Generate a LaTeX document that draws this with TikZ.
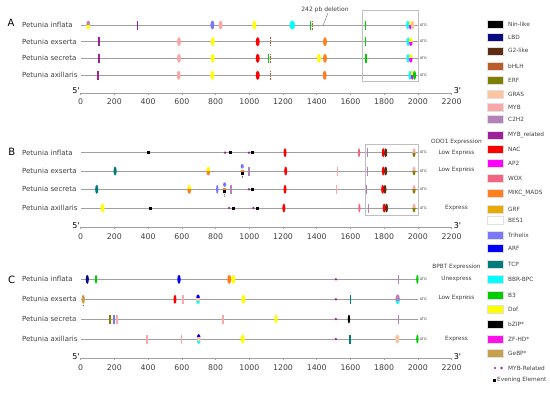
\documentclass[tikz,border=0pt]{standalone}
\usepackage{fontspec}
\setmainfont{DejaVu Sans}
\newfontfamily\primefont{DejaVu Sans}
\definecolor{ninlike}{HTML}{000000}
\definecolor{lbd}{HTML}{0A0A82}
\definecolor{gtwo}{HTML}{5E2C12}
\definecolor{bhlh}{HTML}{BC5C28}
\definecolor{erf}{HTML}{7F7F00}
\definecolor{gras}{HTML}{FCC4A0}
\definecolor{myb}{HTML}{F8A8A8}
\definecolor{ctwo}{HTML}{B482B8}
\definecolor{mybrel}{HTML}{A0209A}
\definecolor{nac}{HTML}{FF0000}
\definecolor{aptwo}{HTML}{FF00FF}
\definecolor{wox}{HTML}{F26482}
\definecolor{mads}{HTML}{FF7F1E}
\definecolor{grf}{HTML}{E8AA00}
\definecolor{bes}{HTML}{FFFFFF}
\definecolor{trihelix}{HTML}{7878F8}
\definecolor{arf}{HTML}{0000FF}
\definecolor{tcp}{HTML}{007C7C}
\definecolor{bbr}{HTML}{00FFFF}
\definecolor{bthree}{HTML}{00CC00}
\definecolor{dof}{HTML}{FFFF00}
\definecolor{bzip}{HTML}{000000}
\definecolor{zfhd}{HTML}{FF10E8}
\definecolor{gebp}{HTML}{C8A04C}
\definecolor{linegray}{HTML}{A0A0A0}
\definecolor{textgray}{HTML}{404040}
% binding sites
\newcommand{\tfoval}[4][2pt]{\fill[#4] (#2,#3) ellipse [x radius=#1, y radius=4.5pt];}
\newcommand{\tfbar}[3]{\fill[#3] (#1,#2) ++(-0.8pt,-4.5pt) rectangle ++(1.6pt,9pt);}
\newcommand{\tfdash}[3]{\draw[#3, line width=1.2pt, dash pattern=on 1.6pt off 0.9pt] (#1,#2) ++(0,4.5pt) -- ++(0,-9pt);}
\newcommand{\tfduo}[5][2pt]{\begin{scope}
  \clip (#2,#3) ellipse [x radius=#1, y radius=4.5pt];
  \fill[#4] (#2,#3) ++(-3pt,0) rectangle ++(6pt,5pt);
  \fill[#5] (#2,#3) ++(-3pt,0) rectangle ++(6pt,-5pt);
  \end{scope}}
\newcommand{\tftrio}[6][2pt]{\begin{scope}
  \clip (#2,#3) ellipse [x radius=#1, y radius=5pt];
  \fill[#4] (#2,#3) ++(-3pt,1.7pt) rectangle ++(6pt,4pt);
  \fill[#5] (#2,#3) ++(-3pt,-1.7pt) rectangle ++(6pt,3.4pt);
  \fill[#6] (#2,#3) ++(-3pt,-1.7pt) rectangle ++(6pt,-4pt);
  \end{scope}}
\newcommand{\tfstack}[2]{%
  \fill[trihelix] (#1,#2) ++(0,4.7pt) ellipse [x radius=1.6pt, y radius=2.3pt];
  \fill[mads] (#1,#2) ++(-1.6pt,-1pt) rectangle ++(3.2pt,2.4pt);
  \fill[black] (#1,#2) ++(-1.6pt,-1pt) rectangle ++(3.2pt,-2.6pt);
  \fill[black] (#1,#2) ++(0,-5.4pt) circle (0.45pt) ++(0,-1.5pt) circle (0.45pt);}
\newcommand{\evsq}[2]{\fill[black] (#1,#2) ++(-1.5pt,-1.5pt) rectangle ++(3pt,3pt);}
\newcommand{\mrdot}[2]{\fill[mybrel] (#1,#2) circle (1.3pt);}
\begin{document}
\begin{tikzpicture}[x=1pt, y=-1pt,
  species/.style={anchor=west, text=textgray, font=\fontsize{7}{8}\selectfont, inner sep=0pt},
  panel/.style={font=\fontsize{10}{12}\selectfont, inner sep=0pt},
  gene/.style={draw=linegray, line width=0.8pt},
  atg/.style={anchor=west, text=textgray, font=\fontsize{3.5}{4}\selectfont, inner sep=1.5pt},
  axisline/.style={draw=linegray, line width=0.8pt},
  ticklab/.style={text=textgray, font=\fontsize{7.8}{9}\selectfont, inner sep=0pt},
  endlab/.style={text=black, font=\primefont\fontsize{8}{9}\selectfont, inner sep=0pt},
  exprlab/.style={text=textgray, font=\fontsize{5.8}{7}\selectfont, inner sep=0pt},
  legtext/.style={anchor=west, text=textgray, font=\fontsize{5.8}{7}\selectfont, inner sep=0pt},
  frame/.style={draw=black!25, line width=0.6pt}]

\useasboundingbox (0,0) rectangle (550,392);

% panel letters and species
\node[panel] (A) at (11,23) {A};
\node[panel] (B) at (11.7,152.3) {B};
\node[panel] (C) at (11.7,280) {C};
\foreach \p/\ya/\yb/\yc/\yd in {A/25/41.7/58.3/75.3, B/152.7/171/189.3/208, C/279.3/299.3/319/339} {
  \node[species] (\p inf) at (22,\ya) {Petunia inflata};
  \node[species] (\p exs) at (22,\yb) {Petunia exserta};
  \node[species] (\p sec) at (22,\yc) {Petunia secreta};
  \node[species] (\p axl) at (22,\yd) {Petunia axillaris};
}

% expression notes
\node[exprlab] (odo) at (456.5,142.3) {ODO1 Expression};
\node[exprlab] (odoinf) at (456.5,153) {Low Express};
\node[exprlab] (odoexs) at (456.5,170) {Low Express};
\node[exprlab] (odoaxl) at (456.5,208) {Express};
\node[exprlab] (bpbt) at (456.5,266.7) {BPBT Expression};
\node[exprlab] (bpbtinf) at (456.5,279.3) {Unexpress};
\node[exprlab] (bpbtexs) at (456.5,297.7) {Low Express};
\node[exprlab] (bpbtaxl) at (456.5,338.7) {Express};

% promoters, x in bp
\begin{scope}[xshift=80.7pt, x=0.1686pt]
  \foreach \y in {25,41.7,58.3,75.3,152.7,171,189.3,208,279.3,299.3,319,339}
    \draw[gene] (0,\y) -- (2000,\y) node[atg] {ATG};
  \foreach \y in {93,227.3,358.3} {
    \draw[axisline] (0,\y) -- (2200,\y);
    \foreach \t in {0,200,...,2200} {
      \draw[axisline, line width=0.6pt] (\t,\y) -- ++(0,-2pt);
      \node[ticklab] at (\t,\y+9) {\t};
    }
    \node[endlab] at (-28,\y-2) {5'};
    \node[endlab] at (2235,\y-2) {3'};
  }
  \draw[frame] (1672,10) rectangle (2002,81.7);
  \draw[frame] (1686,144.3) rectangle (2002,215.7);

  % A: inflata
  \tfduo{45}{25}{ctwo}{dof}
  \tfbar{338}{25}{mybrel}
  \foreach \u/\c in {781/trihelix, 830/myb, 1030/dof} {\tfoval{\u}{25}{\c}}
  \tfoval[2.8pt]{1255}{25}{bbr}
  \tfbar{1364}{25}{bthree}
  \tfdash{1376}{25}{bhlh}
  \tfbar{1690}{25}{bthree}
  \tfoval[1.6pt]{1940}{25}{bbr}
  \tfduo[1.4pt]{1955}{25}{dof}{aptwo}
  \tfoval[1.6pt]{1969}{25}{gras}
  % A: exserta
  \tfbar{107}{41.7}{mybrel}
  \foreach \u/\c in {583/myb, 783/dof, 1050/nac, 1449/mads} {\tfoval{\u}{41.7}{\c}}
  \tfdash{1127}{41.7}{bhlh}
  \tfbar{1690}{41.7}{bthree}
  \tfoval[1.6pt]{1942}{41.7}{bbr}
  \tfduo[1.8pt]{1958}{41.7}{dof}{aptwo}
  % A: secreta
  \tfbar{107}{58.3}{mybrel}
  \foreach \u/\c in {583/myb, 783/dof, 1050/nac, 1413/dof, 1449/mads} {\tfoval{\u}{58.3}{\c}}
  \tfbar{1114}{58.3}{bthree}
  \tfdash{1124}{58.3}{bhlh}
  \tfbar{1692}{58.3}{bthree}
  \tfoval[1.6pt]{1942}{58.3}{bbr}
  \tfduo[1.8pt]{1958}{58.3}{dof}{aptwo}
  % A: axillaris
  \tfbar{101}{75.3}{mybrel}
  \foreach \u/\c in {581/myb, 781/dof, 1050/nac, 1447/mads} {\tfoval{\u}{75.3}{\c}}
  \tfdash{1127}{75.3}{bhlh}
  \tfoval[1.6pt]{1953}{75.3}{bbr}
  \tfduo[1.4pt]{1966}{75.3}{dof}{aptwo}
  \tfoval[1.6pt]{1980}{75.3}{bthree}
  % A: deletion
  \node[exprlab, font=\fontsize{6}{7}\selectfont] (del) at (1449,10) {242 pb deletion};
  \coordinate (delend) at (1437,25.5);
  \draw[linegray!80!black, line width=0.5pt] ([xshift=3pt]del.south) -- (delend);

  % B: inflata
  \foreach \u in {401,886,1020} {\evsq{\u}{152.7}}
  \foreach \u in {856,998} {\mrdot{\u}{152.7}}
  \tfoval[1.5pt]{1212}{152.7}{nac}
  \tfoval[1.1pt]{1651}{152.7}{wox}
  \tfbar{1702}{152.7}{ctwo}
  \tfoval[1.5pt]{1795}{152.7}{nac}
  \tfoval[1.5pt]{1809}{152.7}{gtwo}
  \tfduo[1.6pt]{1977}{152.7}{myb}{erf}
  % B: exserta
  \tfoval[1.6pt]{204}{171}{tcp}
  \tfduo{757}{171}{dof}{mads}
  \tfstack{958}{171}
  \tfbar{998}{171}{ctwo}
  \tfoval[1.5pt]{1216}{171}{nac}
  \tfbar{1522}{171}{myb}
  \tfbar{1700}{171}{ctwo}
  \tfoval[1.5pt]{1795}{171}{nac}
  \tfoval[1.5pt]{1809}{171}{gtwo}
  \tfduo[1.6pt]{1977}{171}{myb}{erf}
  % B: secreta
  \tfoval[1.6pt]{95}{189.3}{tcp}
  \tfduo{644}{189.3}{dof}{mads}
  \tfoval[1.2pt]{810}{189.3}{trihelix}
  \tfstack{854}{189.3}
  \tfbar{890}{189.3}{ctwo}
  \mrdot{998}{189.3}
  \evsq{1018}{189.3}
  \tfoval[1.5pt]{1212}{189.3}{nac}
  \tfbar{1518}{189.3}{myb}
  \tfbar{1696}{189.3}{ctwo}
  \tfoval[1.5pt]{1791}{189.3}{nac}
  \tfoval[1.5pt]{1805}{189.3}{gtwo}
  \tfduo[1.6pt]{1977}{189.3}{myb}{erf}
  % B: axillaris
  \tfoval{130}{208}{dof}
  \foreach \u in {415,905,1050} {\evsq{\u}{208}}
  \foreach \u in {880,1024} {\mrdot{\u}{208}}
  \tfoval[1.5pt]{1205}{208}{nac}
  \tfoval[1.1pt]{1653}{208}{wox}
  \tfbar{1706}{208}{ctwo}
  \tfoval[1.5pt]{1800}{208}{nac}
  \tfoval[1.5pt]{1814}{208}{gtwo}
  \tfduo[1.6pt]{1977}{208}{myb}{erf}

  % C: inflata
  \tfoval[1.6pt]{39}{279.3}{lbd}
  \tfoval[1.2pt]{91}{279.3}{bthree}
  \tfoval[1.7pt]{583}{279.3}{arf}
  \tfoval{881}{279.3}{mads}
  \tfoval{905}{279.3}{dof}
  \mrdot{1514}{279.3}
  \tfbar{1886}{279.3}{ctwo}
  \tfoval[1.2pt]{1997}{279.3}{bthree}
  % C: exserta
  \tfoval[1.7pt]{15}{299.3}{gebp}
  \fill[black] (15,299.3) ++(0,-6pt) circle (0.5pt);
  \tfoval[1.5pt]{559}{299.3}{nac}
  \tfbar{607}{299.3}{myb}
  \tftrio{696}{299.3}{arf}{gras}{bbr}
  \tfoval{965}{299.3}{dof}
  \mrdot{1514}{299.3}
  \tfbar{1601}{299.3}{tcp}
  \tftrio[2.3pt]{1880}{299.3}{ctwo}{ctwo}{bbr}
  % C: secreta
  \tfbar{174}{319}{erf}
  \tfbar{196}{319}{trihelix}
  \tfbar{216}{319}{myb}
  \tfbar{844}{319}{myb}
  \tfoval[1.6pt]{1158}{319}{dof}
  \mrdot{1514}{319}
  \tfoval[1.2pt]{1591}{319}{bzip}
  \tfbar{1886}{319}{ctwo}
  % C: axillaris
  \tfbar{393}{339}{myb}
  \tfbar{597}{339}{myb}
  \tftrio{700}{339}{arf}{gras}{bbr}
  \tfoval{961}{339}{dof}
  \mrdot{1514}{339}
  \tfbar{1597}{339}{tcp}
  \tfoval[2.2pt]{1878}{339}{gras}
  \tfoval[1.2pt]{1997}{339}{bthree}
\end{scope}

% legend
\foreach \c/\t/\y in {ninlike/Nin-like/24, lbd/LBD/37.5, gtwo/G2-like/50.7, bhlh/bHLH/66,
  erf/ERF/80, gras/GRAS/94, myb/MYB/107, ctwo/C2H2/119.5, mybrel/MYB\_related/135,
  nac/NAC/149, aptwo/AP2/163, wox/WOX/178, mads/MIKC\_MADS/193, grf/GRF/209, bes/BES1/220,
  trihelix/Trihelix/235, arf/ARF/248, tcp/TCP/264, bbr/BBR-BPC/279, bthree/B3/295,
  dof/Dof/309, bzip/bZIP*/324, zfhd/ZF-HD*/339, gebp/GeBP*/353} {
  \fill[\c, draw=black!12, line width=0.4pt] (487,\y-4) rectangle (503,\y+4);
  \node[legtext] (leg\c) at (508,\y) {\t};
}
\fill[mybrel] (495,368) circle (1.1pt);
\fill[mybrel] (501.5,368) circle (1.4pt);
\node[legtext] (legdot) at (508,368) {MYB-Related};
\fill[black] (492.5,378.6) rectangle (495.5,381.6);
\node[legtext] (legeve) at (497,380) {Evening Element};
\end{tikzpicture}
\end{document}
